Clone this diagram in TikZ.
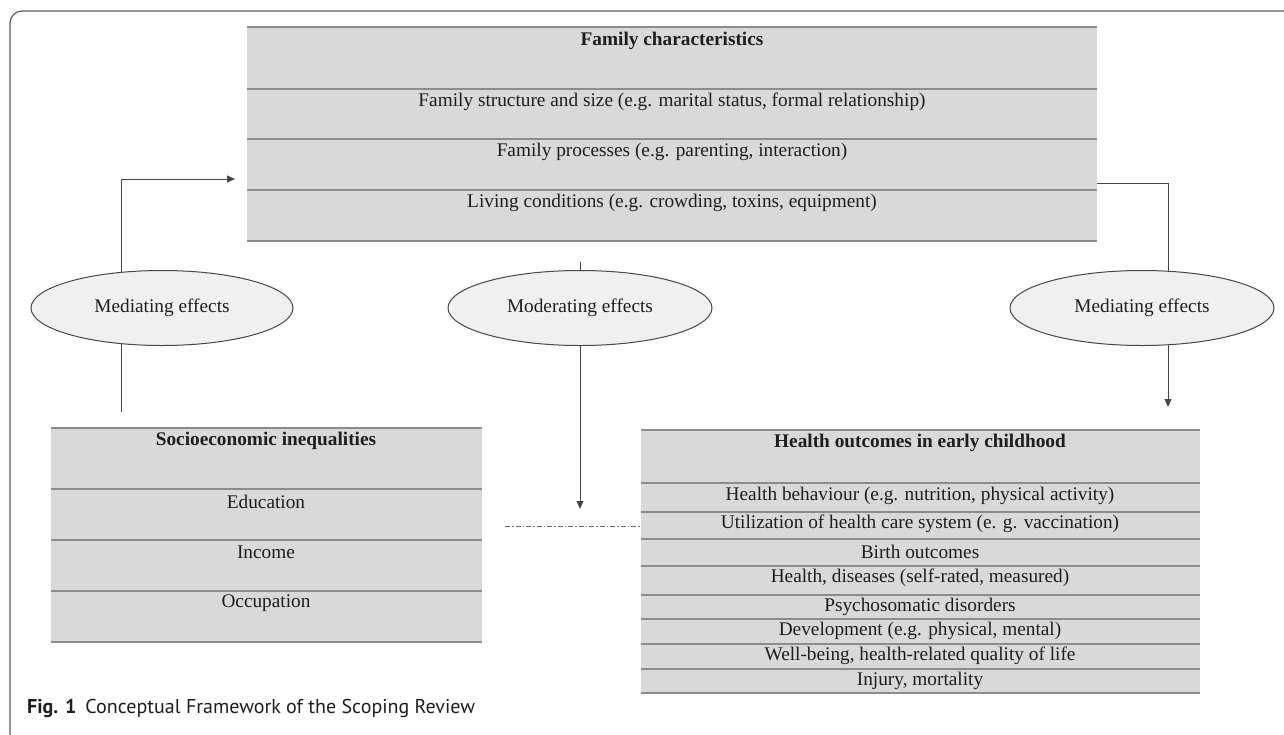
\documentclass[tikz,border=0pt]{standalone}
\usepackage{fontspec}
\setmainfont{Liberation Serif}
\newfontfamily\capfont{PT Sans}
\usetikzlibrary{shapes.geometric,arrows.meta,backgrounds}
\definecolor{fwbox}{RGB}{217,217,217}
\definecolor{fwrule}{RGB}{140,140,140}
\definecolor{fwoval}{RGB}{240,240,240}
\definecolor{fwline}{RGB}{70,70,70}
\definecolor{fwframe}{RGB}{90,90,90}
\definecolor{fwtext}{RGB}{30,30,30}

\begin{document}
\begin{tikzpicture}[x=1pt,y=-1pt,
  panel/.style={fill=fwbox,inner sep=0pt},
  rowrule/.style={draw=fwrule,line width=1.3pt},
  entry/.style={text=fwtext,inner sep=0pt,font=\fontsize{19.3}{22}\selectfont},
  head/.style={text=fwtext,inner sep=0pt,font=\fontsize{19.3}{22}\selectfont\bfseries},
  effect/.style={ellipse,draw=fwline,line width=1pt,fill=fwoval,minimum height=75pt,inner sep=0pt,text=fwtext,font=\fontsize{19.3}{22}\selectfont},
  conn/.style={draw=fwline,line width=0.9pt},
  tip/.style={-{Triangle[length=8pt,width=7pt]}}]
\useasboundingbox (0,0) rectangle (1284,734);
\clip (0,0) rectangle (1284,734);
\draw[fwframe,line width=1.2pt,rounded corners=12pt] (10,11) rectangle (1320,770); %Frame, cut off at right and bottom

%Family characteristics
\node[panel,minimum width=850pt,minimum height=214pt] (fam) at (672,134) {};
\foreach \y in {27,89,139,190,241} \draw[rowrule] (247,\y) -- (1097,\y);
\node[head] (famHead) at (672,41) {Family characteristics};
\node[entry] (famSize) at (672,102) {Family structure and size (e.g. marital status, formal relationship)};
\node[entry] (famProc) at (672,152) {Family processes (e.g. parenting, interaction)};
\node[entry] (famLiving) at (672,203) {Living conditions (e.g. crowding, toxins, equipment)};

%Socioeconomic inequalities
\node[panel,minimum width=431pt,minimum height=214pt] (se) at (266.5,535) {};
\foreach \y in {428,489,540,591,642} \draw[rowrule] (51,\y) -- (482,\y);
\node[head] (seHead) at (266,441) {Socioeconomic inequalities};
\node[entry] (seEdu) at (266,502) {Education};
\node[entry] (seInc) at (266,552) {Income};
\node[entry] (seOcc) at (266,603) {Occupation};

%Health outcomes
\node[panel,minimum width=559pt,minimum height=263pt] (ho) at (920.5,561.5) {};
\foreach \y in {430,483,512,539,566,595,619,644,669,693} \draw[rowrule] (641,\y) -- (1200,\y);
\node[head] (hoHead) at (920,443) {Health outcomes in early childhood};
\node[entry] (hoBeh) at (920,496) {Health behaviour (e.g. nutrition, physical activity)};
\node[entry] (hoUse) at (920,524) {Utilization of health care system (e. g. vaccination)};
\node[entry] (hoBirth) at (920,552) {Birth outcomes};
\node[entry] (hoDis) at (920,578) {Health, diseases (self-rated, measured)};
\node[entry] (hoPsy) at (920,607) {Psychosomatic disorders};
\node[entry] (hoDev) at (920,631) {Development (e.g. physical, mental)};
\node[entry] (hoWell) at (920,656) {Well-being, health-related quality of life};
\node[entry] (hoInj) at (920,681) {Injury, mortality};

%Effects
\node[effect,minimum width=262pt] (medL) at (162,308) {Mediating effects};
\node[effect,minimum width=264pt] (modC) at (580,308) {Moderating effects};
\node[effect,minimum width=264pt] (medR) at (1142,308) {Mediating effects};

%Connectors, behind the ovals
\begin{scope}[on background layer]
\coordinate (seOut) at (121,412);
\coordinate (famIn) at (235,179);
\draw[conn,tip] (seOut) |- (famIn);
\coordinate (famOut) at (580,262);
\coordinate (hoIn) at (580,509);
\draw[conn,tip] (famOut) -- (hoIn);
\coordinate (famR) at (fam.east |- 0,183);
\coordinate (hoTop) at (1168,407);
\draw[conn,tip] (famR) -| (hoTop);
\end{scope}
\coordinate (modEnd) at (505,526);
\draw[fwline!80,line width=0.9pt,dash pattern=on 5pt off 2pt on 1.5pt off 2pt] (modEnd) -- (modEnd -| ho.west); %Moderation line

\node[anchor=base west,inner sep=0pt,text=fwtext,font=\capfont\fontsize{20}{24}\selectfont] (cap) at (27,713) {\textbf{Fig. 1}\hspace{9pt}Conceptual Framework of the Scoping Review};
\end{tikzpicture}
\end{document}
